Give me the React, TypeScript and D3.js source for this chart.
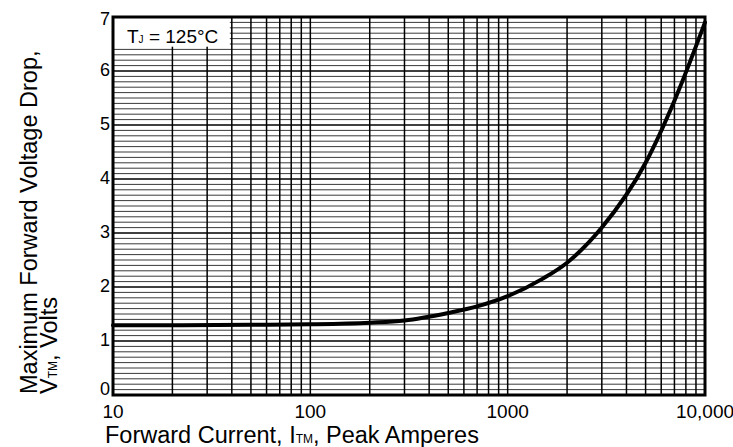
import * as d3 from 'd3';
import React, { useEffect, useRef } from 'react';

// forward current (A) vs max forward voltage drop (V), Tj = 125C
const currents = [10, 20, 50, 100, 200, 300, 500, 700, 1000, 1500, 2000, 3000, 5000, 7000, 10000];
const voltages = [1.29, 1.29, 1.30, 1.31, 1.34, 1.38, 1.52, 1.64, 1.83, 2.15, 2.45, 3.1, 4.3, 5.45, 6.9];

const xTicks = [10, 100, 1000, 10000];
const xTickLabels = ['10', '100', '1000', '10,000'];
const yTicks = [0, 1, 2, 3, 4, 5, 6, 7];

export default function App() {
    const ref = useRef<SVGSVGElement | null>(null);

    useEffect(() => {
        const svg = d3.select(ref.current);
        svg.selectAll('*').remove();

        const margin = { top: 17, right: 28, bottom: 52, left: 113 };
        const width = 733 - margin.left - margin.right;
        const height = 447 - margin.top - margin.bottom;
        const font = 'Liberation Sans, Arial, sans-serif';

        const x = d3.scaleLog().domain([10, 10000]).range([0, width]);
        const y = d3.scaleLinear().domain([0, 7]).range([height, 0]);

        const g = svg.append('g')
            .attr('transform', `translate(${margin.left},${margin.top})`);

        // horizontal grid every 0.1 V
        const hLines = d3.range(1, 70).map(d => d / 10);
        const isMajor = (d: number) => Math.abs(d - Math.round(d)) < 1e-6;
        g.selectAll('.hgrid')
            .data(hLines)
            .enter()
            .append('line')
            .attr('x1', 0)
            .attr('x2', width)
            .attr('y1', d => y(d))
            .attr('y2', d => y(d))
            .attr('stroke', d => (isMajor(d) ? '#000' : '#3a3a3a'))
            .attr('stroke-width', d => (isMajor(d) ? 1.6 : 1));

        // vertical grid, 2..10 per decade
        const vLines: number[] = [];
        [10, 100, 1000].forEach(dec => {
            for (let k = 2; k <= 10; k++) vLines.push(dec * k);
        });
        g.selectAll('.vgrid')
            .data(vLines.filter(d => d < 10000))
            .enter()
            .append('line')
            .attr('x1', d => x(d))
            .attr('x2', d => x(d))
            .attr('y1', 0)
            .attr('y2', height)
            .attr('stroke', '#000')
            .attr('stroke-width', 1.5);

        // label box
        g.append('rect')
            .attr('x', 0)
            .attr('y', 0)
            .attr('width', x(40) - 2)
            .attr('height', y(6.45))
            .attr('fill', 'white');

        const tj = g.append('text')
            .attr('x', 14)
            .attr('y', 26)
            .attr('font-family', font)
            .attr('font-size', 19)
            .attr('fill', 'black');
        tj.append('tspan').text('T');
        tj.append('tspan').attr('font-size', 10).text('J');
        tj.append('tspan').text(' = 125°C');

        // curve
        const line = d3.line<number>()
            .x((d, i) => x(currents[i]))
            .y(d => y(d))
            .curve(d3.curveMonotoneX);

        g.append('path')
            .attr('d', line(voltages))
            .attr('fill', 'none')
            .attr('stroke', 'black')
            .attr('stroke-width', 4)
            .attr('stroke-linecap', 'round');

        // frame
        g.append('rect')
            .attr('x', 0)
            .attr('y', 0)
            .attr('width', width)
            .attr('height', height)
            .attr('fill', 'none')
            .attr('stroke', 'black')
            .attr('stroke-width', 3);

        // y tick labels
        g.selectAll('.ylab')
            .data(yTicks)
            .enter()
            .append('text')
            .attr('x', -3)
            .attr('y', d => y(d) + (d === 0 ? 0 : d === 7 ? 8 : 5))
            .attr('text-anchor', 'end')
            .attr('font-family', font)
            .attr('font-size', 18)
            .attr('fill', 'black')
            .text(d => d);

        // x tick labels
        g.selectAll('.xlab')
            .data(xTicks)
            .enter()
            .append('text')
            .attr('x', d => x(d))
            .attr('y', height + 23)
            .attr('text-anchor', 'middle')
            .attr('font-family', font)
            .attr('font-size', 19)
            .attr('fill', 'black')
            .text((d, i) => xTickLabels[i]);

        // x axis title
        const xt = svg.append('text')
            .attr('x', 105)
            .attr('y', 443)
            .attr('font-family', font)
            .attr('font-size', 23.5)
            .attr('fill', 'black');
        xt.append('tspan').text('Forward Current, I');
        xt.append('tspan').attr('font-size', 12).text('TM');
        xt.append('tspan').text(', Peak Amperes');

        // y axis title, two lines
        svg.append('text')
            .attr('transform', 'translate(37,394)rotate(-90)')
            .attr('font-family', font)
            .attr('font-size', 23.5)
            .attr('fill', 'black')
            .text('Maximum Forward Voltage Drop,');

        const yt2 = svg.append('text')
            .attr('transform', 'translate(57,394)rotate(-90)')
            .attr('font-family', font)
            .attr('font-size', 23.5)
            .attr('fill', 'black');
        yt2.append('tspan').text('V');
        yt2.append('tspan').attr('font-size', 12).text('TM');
        yt2.append('tspan').text(', Volts');
    }, []);

    return (
        <svg
            ref={ref}
            width={733}
            height={447}
            style={{ position: 'absolute', left: 0, top: 0, background: 'white' }}
        />
    );
}
